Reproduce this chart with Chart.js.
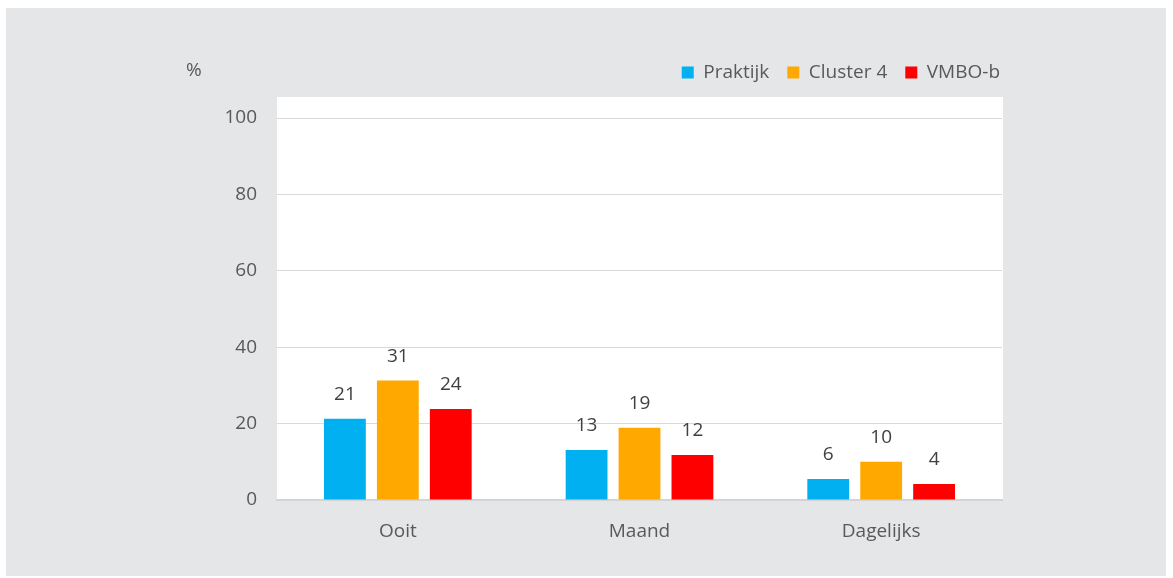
<!DOCTYPE html>
<html>
<head>
<meta charset="utf-8">
<script src="https://cdn.jsdelivr.net/npm/chart.js@4/dist/chart.umd.min.js"></script>
<style>
  body { margin: 0; background: #fff; }
  #wrap { width: 1173px; height: 578px; }
</style>
</head>
<body>
<div id="wrap"><canvas id="chart" width="1173" height="578"></canvas></div>
<script>
const categories = ['Ooit', 'Maand', 'Dagelijks'];
const praktijk = [21.3, 13.1, 5.5];
const cluster4 = [31.3, 18.9, 10.0];
const vmbob = [23.8, 11.8, 4.2];
const yTicks = [0, 20, 40, 60, 80, 100];

const textColor = '#595959';
const font = { family: 'Open Sans', size: 19 };

// grey card + white plot area, legend nudged to the right
const backgrounds = {
    id: 'backgrounds',
    afterLayout(chart) {
        chart.legend.left += 16;
        chart.legend.right += 16;
    },
    beforeDraw(chart) {
        const c = chart.ctx, a = chart.chartArea;
        c.save();
        c.fillStyle = '#e5e6e8';
        c.fillRect(6, 8, 1160, 568);
        c.fillStyle = '#ffffff';
        c.fillRect(a.left, a.top, a.right - a.left + 1, a.bottom - a.top);
        c.restore();
    }
};

// value labels above the bars and the "%" unit
const valueLabels = {
    id: 'valueLabels',
    afterDatasetsDraw(chart) {
        const c = chart.ctx;
        c.save();
        c.font = '19px "Open Sans"';
        c.fillStyle = '#404040';
        c.textAlign = 'center';
        c.textBaseline = 'middle';
        chart.data.datasets.forEach((ds, i) => {
            chart.getDatasetMeta(i).data.forEach((bar, j) => {
                c.fillText(Math.round(ds.data[j]), bar.x, bar.y - 24);
            });
        });
        c.fillStyle = textColor;
        c.textAlign = 'left';
        c.fillText('%', 186, 71);
        c.restore();
    }
};

new Chart(document.getElementById('chart'), {
    type: 'bar',
    data: {
        labels: categories,
        datasets: [
            { label: 'Praktijk', data: praktijk, backgroundColor: '#00b0f0' },
            { label: 'Cluster 4', data: cluster4, backgroundColor: '#ffa800' },
            { label: 'VMBO-b', data: vmbob, backgroundColor: '#ff0000' }
        ]
    },
    options: {
        responsive: false,
        animation: false,
        layout: { padding: { left: 177, right: 171, top: 45, bottom: 18 } },
        datasets: { bar: { categoryPercentage: 0.657, barPercentage: 0.79 } },
        plugins: {
            tooltip: { enabled: false },
            legend: {
                position: 'top',
                align: 'end',
                labels: {
                    boxWidth: 12,
                    boxHeight: 12,
                    padding: 18,
                    color: textColor,
                    font: font
                }
            },
            subtitle: {
                display: true,
                text: ' ',
                weight: 500,
                font: { size: 1, lineHeight: 1 },
                padding: { top: 0, bottom: 4 }
            }
        },
        scales: {
            x: {
                grid: { display: false, drawTicks: false },
                border: { color: '#d4d4d4', width: 2 },
                ticks: { color: textColor, padding: 20, font: font },
                afterFit(scale) { scale.height = 60; }
            },
            y: {
                min: 0,
                max: 105.5,
                afterBuildTicks(scale) { scale.ticks = yTicks.map(v => ({ value: v })); },
                grid: { color: '#d9d9d9', drawTicks: false },
                border: { display: false },
                ticks: { color: textColor, padding: 20, font: font },
                afterFit(scale) { scale.width = 100; }
            }
        }
    },
    plugins: [backgrounds, valueLabels]
});
</script>
</body>
</html>
